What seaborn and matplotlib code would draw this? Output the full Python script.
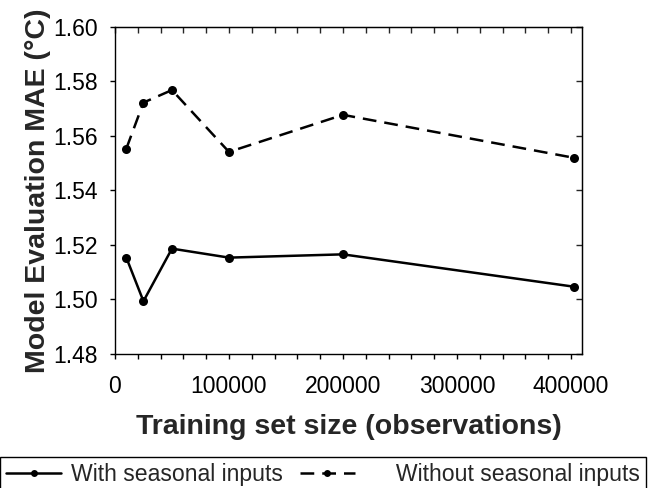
import pandas as pd
import seaborn as sns
import matplotlib.pyplot as plt
from matplotlib.ticker import MultipleLocator

# values
train_size = [10000, 25000, 50000, 100000, 200000, 403000]
mae_with = [1.5153, 1.4993, 1.5186, 1.5153, 1.5165, 1.5046]
mae_without = [1.5553, 1.5722, 1.5768, 1.5541, 1.5677, 1.5519]
series_names = ['With seasonal inputs', 'Without seasonal inputs']

df = pd.concat([
    pd.DataFrame({'size': train_size, 'mae': mae_with, 'series': series_names[0]}),
    pd.DataFrame({'size': train_size, 'mae': mae_without, 'series': series_names[1]}),
])

sns.set_style('ticks')
plt.rcParams['font.family'] = ['Liberation Sans', 'DejaVu Sans']

fig = plt.figure(figsize=(6.53, 4.88), dpi=100)
ax = fig.add_axes([0.176, 0.275, 0.716, 0.670])

sns.lineplot(data=df, x='size', y='mae', hue='series', style='series',
             palette=['black', 'black'], markers={series_names[0]: 'o', series_names[1]: 'o'},
             dashes={series_names[0]: '', series_names[1]: (5.5, 3.2)},
             linewidth=1.8, markersize=6.5, markeredgewidth=0, ax=ax, legend=False)

ax.set_xlim(0, 410000)
ax.set_ylim(1.48, 1.60)
ax.xaxis.set_major_locator(MultipleLocator(100000))
ax.xaxis.set_minor_locator(MultipleLocator(20000))
ax.yaxis.set_major_locator(MultipleLocator(0.02))
ax.yaxis.set_major_formatter(plt.FormatStrFormatter('%.2f'))
ax.xaxis.set_major_formatter(plt.FormatStrFormatter('%d'))

for s in ax.spines.values():
    s.set_visible(True)
    s.set_linewidth(1.0)
    s.set_color('black')

ax.tick_params(axis='both', which='both', color='black', width=1.0, length=3.6,
               labelsize=16.5, labelcolor='black')
ax.tick_params(axis='x', which='both', direction='out', top=False, pad=11.5)
ax.tick_params(axis='y', which='both', direction='out', right=False, pad=8.6)

# inward ticks on top and right
sec_x = ax.secondary_xaxis('top')
sec_x.xaxis.set_major_locator(MultipleLocator(20000))
sec_x.tick_params(direction='in', length=4, width=1.0, labeltop=False)
sec_y = ax.secondary_yaxis('right')
sec_y.yaxis.set_major_locator(MultipleLocator(0.02))
sec_y.tick_params(direction='in', length=4, width=1.0, labelright=False)

ax.set_xlabel('Training set size (observations)', fontsize=20.5, fontweight='bold', labelpad=12)
ax.set_ylabel('Model Evaluation MAE (°C)', fontsize=20.5, fontweight='bold', labelpad=2)

handles = [
    plt.Line2D([], [], color='black', lw=1.8, marker='o', markersize=5, markeredgewidth=0),
    plt.Line2D([], [], color='black', lw=1.8, marker='o', markersize=5, markeredgewidth=0,
               dashes=(5.5, 3.2)),
]
labels = [series_names[0], '     ' + series_names[1]]
leg = fig.legend(handles, labels, loc='lower left', bbox_to_anchor=(0.0, -0.008),
                 ncol=2, fontsize=16.6, frameon=True, fancybox=False,
                 edgecolor='black', framealpha=1, borderpad=0.26, handlelength=2.4,
                 handletextpad=0.4, columnspacing=0.75, borderaxespad=0)
leg.get_frame().set_linewidth(1.0)

fig.savefig('out.png', dpi=100)
